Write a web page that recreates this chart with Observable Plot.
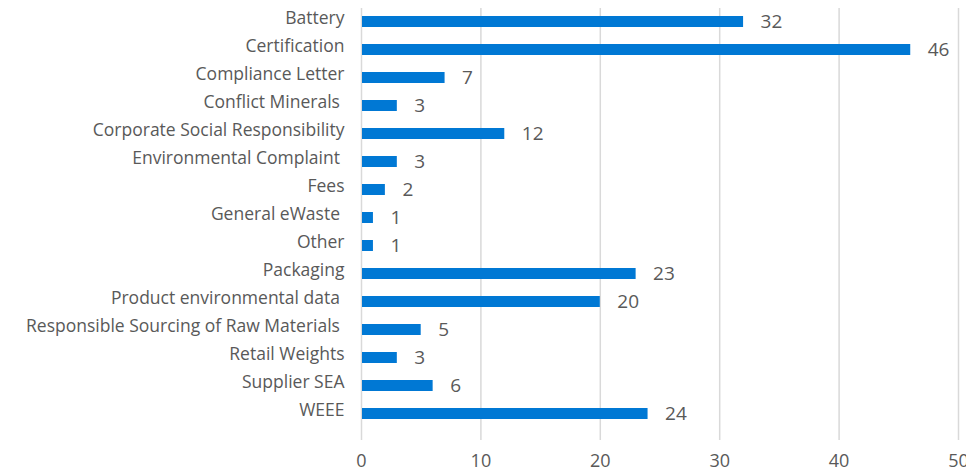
<!DOCTYPE html>
<html>
<head>
<meta charset="utf-8">
<script src="https://cdn.jsdelivr.net/npm/d3@7"></script>
<script src="https://cdn.jsdelivr.net/npm/@observablehq/plot@0.6"></script>
<style>
  html, body { margin: 0; padding: 0; background: #ffffff; }
  svg text { white-space: pre; }
</style>
</head>
<body>
<div id="chart"></div>
<script>
const categories = [
  "Battery",
  "Certification",
  "Compliance Letter",
  "Conflict Minerals ",
  "Corporate Social Responsibility",
  "Environmental Complaint ",
  "Fees",
  "General eWaste ",
  "Other",
  "Packaging",
  "Product environmental data ",
  "Responsible Sourcing of Raw Materials ",
  "Retail Weights",
  "Supplier SEA",
  "WEEE"
];
const values = [32, 46, 7, 3, 12, 3, 2, 1, 1, 23, 20, 5, 3, 6, 24];
const xTicks = [0, 10, 20, 30, 40, 50];

const data = categories.map((c, i) => ({category: c, value: values[i]}));

const chart = Plot.plot({
  width: 966,
  height: 471,
  marginLeft: 361,
  marginRight: 8,
  marginTop: 7,
  marginBottom: 44,
  style: {fontFamily: "'Open Sans', sans-serif", color: "#595959", background: "#ffffff"},
  x: {domain: [0, 50]},
  y: {domain: categories, paddingInner: 0.625, paddingOuter: 0.3125},
  marks: [
    Plot.ruleX(xTicks, {x: d => d, stroke: "#d9d9d9", strokeWidth: 1.5, insetTop: 1, insetBottom: -13}),
    Plot.barX(data, {x: "value", y: "category", fill: "#0078D4", insetLeft: 1}),
    Plot.text(data, {x: "value", y: "category", text: d => String(d.value), dx: 17, textAnchor: "start", fontSize: 19, fill: "#595959"}),
    Plot.axisY({tickSize: 0, tickPadding: 17, fontSize: 17.5, dy: -4, label: null}),
    Plot.axisX({ticks: xTicks, tickSize: 0, tickPadding: 27, fontSize: 18, label: null})
  ]
});
document.getElementById("chart").appendChild(chart);
</script>
</body>
</html>
